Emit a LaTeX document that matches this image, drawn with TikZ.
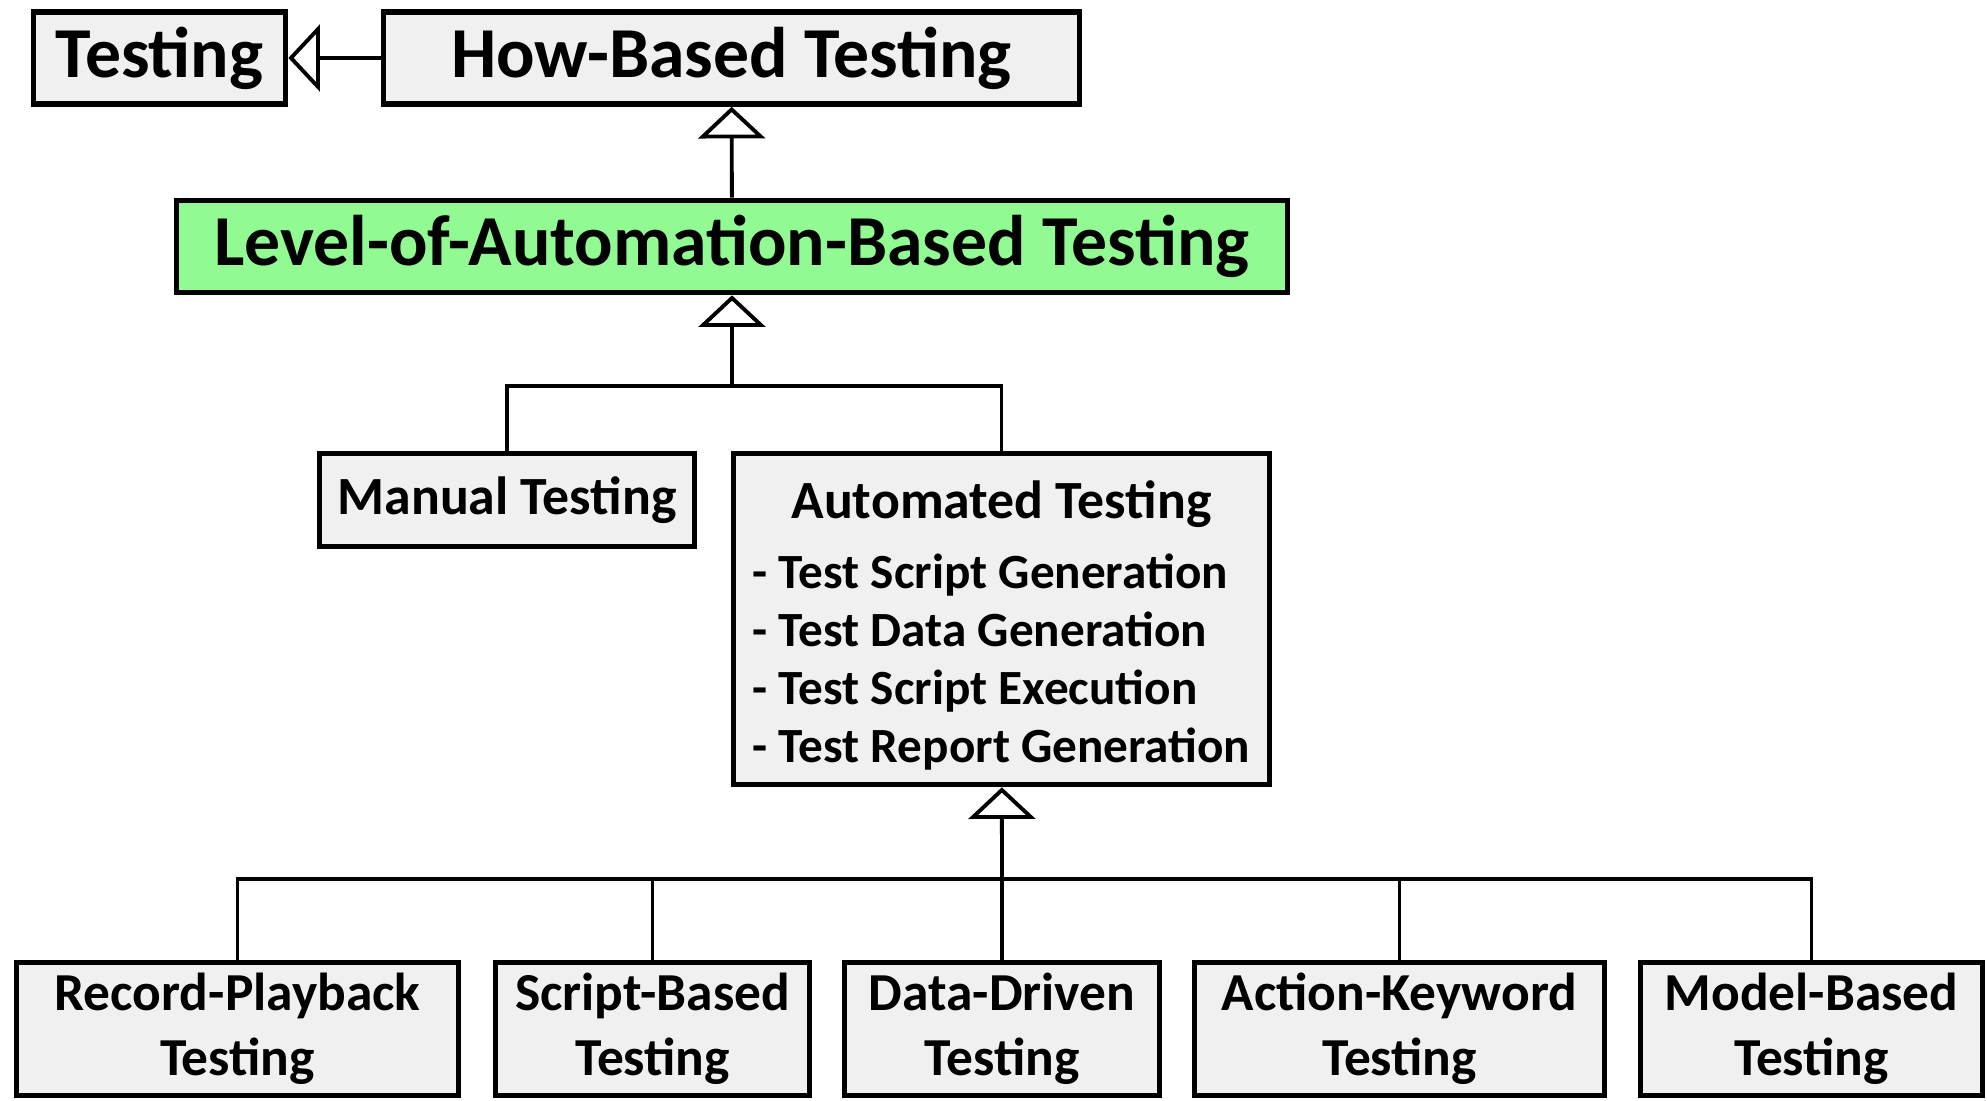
\documentclass[tikz,border=0pt]{standalone}
\usepackage{fontspec}
\setmainfont{Carlito}
\usepackage{tikz}
\usetikzlibrary{arrows.meta}
\definecolor{box_grey}{RGB}{240, 240, 240}
\definecolor{box_green}{RGB}{146, 250, 146}
\tikzstyle{bx}=[rectangle,fill=box_grey,draw=black,line width=1.6pt,
  inner sep=0pt,font=\bfseries]
\tikzstyle{gbx}=[bx,fill=box_green]
\tikzstyle{big}=[font=\fontsize{20.4}{24}\selectfont\bfseries]
\tikzstyle{mid}=[font=\fontsize{15.3}{18}\selectfont\bfseries]
\tikzstyle{low}=[font=\fontsize{15.2}{18.6}\selectfont\bfseries,align=center]
\tikzstyle{inh}=[-{Triangle[open,length=9pt,width=19pt]}]
\tikzstyle{none}=[]

\begin{document}
\begin{tikzpicture}[line width=1.1pt]
            \useasboundingbox (0, 0) rectangle (19.87, -11.01);
            \node [style=bx, style=big, minimum width=2.52cm, minimum height=0.92cm] (0) at (1.595, -0.58) {Testing};
            \node [style=bx, style=big, minimum width=6.96cm, minimum height=0.92cm] (1) at (7.315, -0.58) {How-Based Testing};
            \node [style=gbx, style=big, minimum width=11.11cm, minimum height=0.92cm] (2) at (7.32, -2.465) {Level-of-Automation-Based Testing};
            \node [style=bx, style=mid, minimum width=3.75cm, minimum height=0.93cm] (3) at (5.07, -5.0) {Manual Testing};
            \node [style=bx, minimum width=5.36cm, minimum height=3.31cm] (4) at (10.015, -6.19) {%
              \fontsize{14}{16.5}\selectfont
              \begin{tabular}{@{}l@{}}
                \multicolumn{1}{@{}c@{}}{\rule{0pt}{17pt}\fontsize{15.3}{18}\selectfont Automated Testing}\\[3.5pt]
                - Test Script Generation\\
                - Test Data Generation\\
                - Test Script Execution\\
                - Test Report Generation
              \end{tabular}};
            \node [style=bx, style=low, minimum width=4.42cm, minimum height=1.33cm] (7) at (2.375, -10.29) {Record-Playback\\Testing};
            \node [style=bx, style=low, minimum width=3.14cm, minimum height=1.33cm] (8) at (6.525, -10.29) {Script-Based\\Testing};
            \node [style=bx, style=low, minimum width=3.15cm, minimum height=1.33cm] (9) at (10.02, -10.29) {Data-Driven\\Testing};
            \node [style=bx, style=low, minimum width=4.10cm, minimum height=1.33cm] (10) at (13.995, -10.29) {Action-Keyword\\Testing};
            \node [style=bx, style=low, minimum width=3.42cm, minimum height=1.33cm] (11) at (18.115, -10.29) {Model-Based\\Testing};
            \node [style=none] (20) at (7.32, -3.86) {};
            \node [style=none] (21) at (10.02, -8.79) {};
            \draw [style=inh] (1) to (0);
            \draw [style=inh] (2) to (1);
            \draw [style=inh] (20.center) to (2);
            \draw (3) |- (20.center);
            \draw (20.center) -| (4);
            \draw [style=inh] (21.center) to (4);
            \draw (7) |- (21.center);
            \draw (21.center) -| (8);
            \draw (9) to (21.center);
            \draw (21.center) -| (10);
            \draw (21.center) -| (11);
    \end{tikzpicture}
\end{document}
